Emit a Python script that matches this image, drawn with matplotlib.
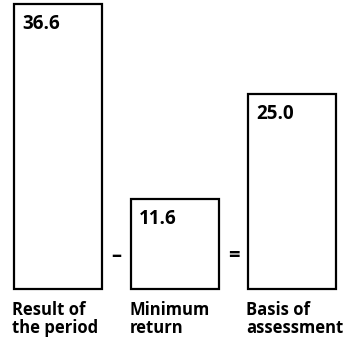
import matplotlib.pyplot as plt

values = [36.6, 11.6, 25.0]
value_labels = ["36.6", "11.6", "25.0"]
categories = ["Result of\nthe period", "Minimum\nreturn", "Basis of\nassessment"]
operators = ["\u2013", "="]

plt.rcParams['font.family'] = ['Open Sans', 'DejaVu Sans']

fig = plt.figure(figsize=(3.46, 3.43), dpi=100)
ax = fig.add_axes([0, 0, 1, 1])
ax.set_xlim(-0.496, 2.462)
ax.set_ylim(-6.93, 37.11)
ax.axis("off")

x = range(len(values))
w = 0.75
ax.bar(x, values, width=w, color="white", edgecolor="black", linewidth=1.6)

for i, (v, lab) in enumerate(zip(values, value_labels)):
    ax.text(i - w / 2 + 0.07, v - 1.3, lab, ha="left", va="top",
            fontsize=13.5, fontweight="bold")
    ax.text(i - w / 2 - 0.015, -1.5, categories[i], ha="left", va="top",
            fontsize=12, fontweight="bold", linespacing=1.05)

for i, op in enumerate(operators):
    ax.text(i + 0.5, 4.3, op, ha="center", va="center",
            fontsize=14.5, fontweight="bold")

fig.savefig("out.png", dpi=100)
